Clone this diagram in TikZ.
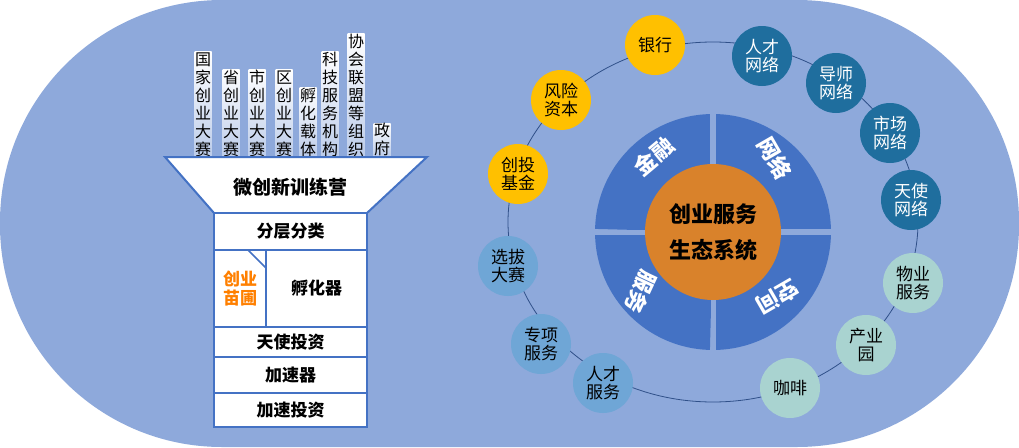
\documentclass[tikz,border=0pt]{standalone}
\usepackage{fontspec}
\setmainfont{Noto Sans CJK SC}
\usetikzlibrary{positioning,calc}
\definecolor{bgblue}{HTML}{8EA9DB}
\definecolor{pieblue}{HTML}{4472C4}
\definecolor{hubor}{HTML}{D9822B}
\definecolor{cyell}{HTML}{FFC000}
\definecolor{cdark}{HTML}{1F6E9E}
\definecolor{cteal}{HTML}{A9D3D0}
\definecolor{clight}{HTML}{6FA6D6}
\tikzset{
  ring/.style={circle,minimum size=60pt,inner sep=0pt,align=center,font=\fontsize{17}{18}\selectfont},
  yell/.style={ring,fill=cyell,text=black},
  dark/.style={ring,fill=cdark,text=white},
  teal/.style={ring,fill=cteal,text=black},
  lite/.style={ring,fill=clight,text=black},
  stagebox/.style={draw=pieblue,line width=2pt,fill=white,font=\bfseries\fontsize{17}{19}\selectfont},
  col/.style={top color=white,bottom color=bgblue!60,inner sep=0.5pt,align=center,font=\fontsize{16}{18}\selectfont,anchor=south},
  quad/.style={white,font=\bfseries\fontsize{22}{24}\selectfont}
}
\begin{document}
\begin{tikzpicture}[x=1pt,y=-1pt]
\useasboundingbox (0,0) rectangle (1019,447);
% background
\fill[white] (0,0) rectangle (1019,447);
\fill[bgblue,rounded corners=222pt] (0,0) rectangle (1019,447);

% columns above funnel
\node[col] (c1) at (203,157) {国\\家\\创\\业\\大\\赛};
\node[col] (c2) at (231,157) {省\\创\\业\\大\\赛};
\node[col] (c3) at (257,157) {市\\创\\业\\大\\赛};
\node[col] (c4) at (284,157) {区\\创\\业\\大\\赛};
\node[col] (c5) at (308,157) {孵\\化\\载\\体};
\node[col] (c6) at (330,157) {科\\技\\服\\务\\机\\构};
\node[col] (c7) at (356,157) {协\\会\\联\\盟\\等\\组\\织};
\node[col] (c8) at (382,157) {政\\府};

% funnel
\filldraw[fill=white,draw=pieblue,line width=2pt] (165,157) -- (427,157) -- (367,213) -- (214,213) -- cycle;
\node[font=\bfseries\fontsize{19}{21}\selectfont] (camp) at (290,187) {微创新训练营};
\node[stagebox,minimum width=153pt,minimum height=37pt] (s1) at (290.5,231.5) {分层分类};
\node[stagebox,minimum width=52pt,minimum height=77pt,text=orange,align=center] (s2a) at (240,288.5) {创业\\苗圃};
\draw[pieblue,line width=1.5pt] (248,250) -- (266,268);
\node[stagebox,minimum width=101pt,minimum height=77pt] (s2b) at (316.5,288.5) {孵化器};
\node[stagebox,minimum width=153pt,minimum height=30pt] (s3) at (290.5,342) {天使投资};
\node[stagebox,minimum width=153pt,minimum height=36pt] (s4) at (290.5,375) {加速器};
\node[stagebox,minimum width=153pt,minimum height=34pt] (s5) at (290.5,410) {加速投资};

% ring
\draw[pieblue!70!black,line width=0.8pt] (713,222) ellipse (205pt and 180pt);

% central pie
\coordinate (hub) at (713,232);
\foreach \a in {0,90,180,270}
  \fill[pieblue] ($(hub)+(\a+1.5:118pt)$) arc[start angle=\a+1.5,end angle=\a+88.5,radius=118pt] -- ($(hub)+(\a+88.5:3pt)$) -- cycle;
\draw[bgblue,line width=5pt] (595,232) -- (831,232) (713,114) -- (713,350);
\node[circle,fill=hubor,minimum size=136pt,inner sep=0pt,align=center,font=\bfseries\fontsize{22}{36}\selectfont] (core) at (hub) {创业服务\\生态系统};
\node[quad,rotate=40] (w1) at ($(hub)+(128:96pt)$) {金融};
\node[quad,rotate=-60] (w2) at ($(hub)+(50:96pt)$) {网络};
\node[quad,rotate=-150] (w3) at ($(hub)+(-45:92pt)$) {空间};
\node[quad,rotate=-115] (w4) at ($(hub)+(-140:94pt)$) {服务};

% ring nodes
\node[yell] (n1) at (655,45) {银行};
\node[dark] (n2) at (762,56) {人才\\网络};
\node[dark] (n3) at (836,83) {导师\\网络};
\node[dark] (n4) at (890,133) {市场\\网络};
\node[dark] (n5) at (911,200) {天使\\网络};
\node[teal] (n6) at (913,283) {物业\\服务};
\node[teal] (n7) at (866,345) {产业\\园};
\node[teal] (n8) at (790,388) {咖啡};
\node[lite] (n9) at (603,383) {人才\\服务};
\node[lite] (n10) at (541,344) {专项\\服务};
\node[lite] (n11) at (508,266) {选拔\\大赛};
\node[yell] (n12) at (518,174) {创投\\基金};
\node[yell] (n13) at (561,100) {风险\\资本};
\end{tikzpicture}
\end{document}
